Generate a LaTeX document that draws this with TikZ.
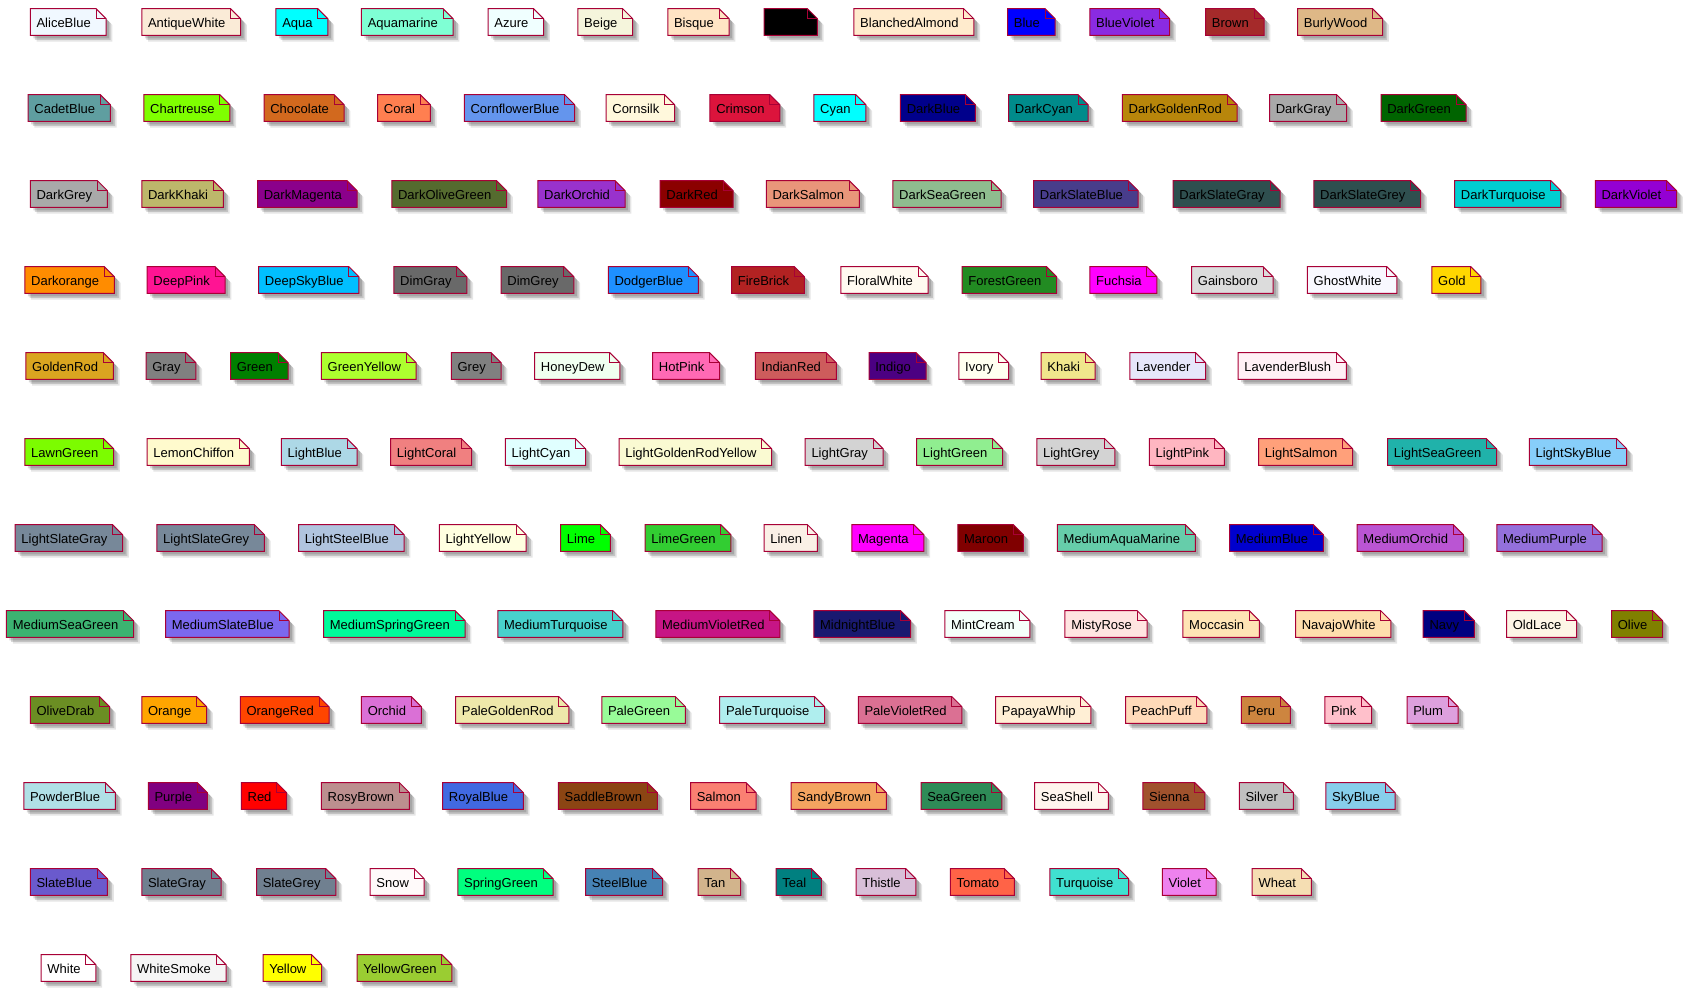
\documentclass[tikz,border=0pt]{standalone}
\usepackage{fontspec}
\setmainfont{Liberation Sans}
\usetikzlibrary{backgrounds,shadows}
\definecolor{noteborder}{HTML}{A80036}
\tikzset{
 notetext/.style={anchor=west, inner sep=0pt, minimum height=19.5pt, text height=8.5pt, text depth=0.5pt, font=\fontsize{9.75}{11}\selectfont, text=black},
 noteshape/.style={draw=noteborder, line width=0.75pt, line join=miter},
 softshadow/.style={drop shadow={shadow xshift=2.25pt, shadow yshift=-2.25pt, fill=black, opacity=0.15},
                    drop shadow={shadow xshift=3.5pt, shadow yshift=-3.5pt, fill=black, opacity=0.15},
                    drop shadow={shadow xshift=4.7pt, shadow yshift=-4.7pt, fill=black, opacity=0.1}}
}
\newcommand\colnote[4]{%
 \definecolor{nc#1}{HTML}{#2}%
 \node[notetext] (#1) at ({#3*1.0823+6},{22+86*#4}) {#1};
 \begin{pgfonlayer}{background}
  \draw[noteshape, fill=nc#1, softshadow] ([xshift=-4.5pt]#1.south west) -- ([xshift=-4.5pt]#1.north west) -- ([xshift=3.75pt]#1.north east) -- ([xshift=11.25pt,yshift=-7.5pt]#1.north east) -- ([xshift=11.25pt]#1.south east) -- cycle;
  \draw[noteshape] ([xshift=3.75pt]#1.north east) -- ([xshift=3.75pt,yshift=-7.5pt]#1.north east) -- ([xshift=11.25pt,yshift=-7.5pt]#1.north east);
 \end{pgfonlayer}}
\begin{document}
\begin{tikzpicture}[x=0.75pt,y=-0.75pt]
\useasboundingbox (0,0) rectangle (1697,991);
% row 0
\colnote{AliceBlue}{F0F8FF}{28}{0}
\colnote{AntiqueWhite}{FAEBD7}{131}{0}
\colnote{Aqua}{00FFFF}{255}{0}
\colnote{Aquamarine}{7FFFD4}{334}{0}
\colnote{Azure}{F0FFFF}{451}{0}
\colnote{Beige}{F5F5DC}{534}{0}
\colnote{Bisque}{FFE4C4}{617}{0}
\colnote{Black}{000000}{706}{0}
\colnote{BlanchedAlmond}{FFEBCD}{789}{0}
\colnote{Blue}{0000FF}{931}{0}
\colnote{BlueViolet}{8A2BE2}{1007}{0}
\colnote{Brown}{A52A2A}{1114}{0}
\colnote{BurlyWood}{DEB887}{1199}{0}
% row 1
\colnote{CadetBlue}{5F9EA0}{26}{1}
\colnote{Chartreuse}{7FFF00}{133}{1}
\colnote{Chocolate}{D2691E}{244}{1}
\colnote{Coral}{FF7F50}{349}{1}
\colnote{CornflowerBlue}{6495ED}{429}{1}
\colnote{Cornsilk}{FFF8DC}{560}{1}
\colnote{Crimson}{DC143C}{656}{1}
\colnote{Cyan}{00FFFF}{752}{1}
\colnote{DarkBlue}{00008B}{832}{1}
\colnote{DarkCyan}{008B8B}{932}{1}
\colnote{DarkGoldenRod}{B8860B}{1037}{1}
\colnote{DarkGray}{A9A9A9}{1173}{1}
\colnote{DarkGreen}{006400}{1276}{1}
% row 2
\colnote{DarkGrey}{A9A9A9}{28}{2}
\colnote{DarkKhaki}{BDB76B}{131}{2}
\colnote{DarkMagenta}{8B008B}{238}{2}
\colnote{DarkOliveGreen}{556B2F}{362}{2}
\colnote{DarkOrchid}{9932CC}{497}{2}
\colnote{DarkRed}{8B0000}{610}{2}
\colnote{DarkSalmon}{E9967A}{708}{2}
\colnote{DarkSeaGreen}{8FBC8F}{825}{2}
\colnote{DarkSlateBlue}{483D8B}{955}{2}
\colnote{DarkSlateGray}{2F4F4F}{1084}{2}
\colnote{DarkSlateGrey}{2F4F4F}{1214}{2}
\colnote{DarkTurquoise}{00CED1}{1344}{2}
\colnote{DarkViolet}{9400D3}{1474}{2}
% row 3
\colnote{Darkorange}{FF8C00}{23}{3}
\colnote{DeepPink}{FF1493}{136}{3}
\colnote{DeepSkyBlue}{00BFFF}{239}{3}
\colnote{DimGray}{696969}{364}{3}
\colnote{DimGrey}{696969}{463}{3}
\colnote{DodgerBlue}{1E90FF}{562}{3}
\colnote{FireBrick}{B22222}{676}{3}
\colnote{FloralWhite}{FFFAF0}{777}{3}
\colnote{ForestGreen}{228B22}{889}{3}
\colnote{Fuchsia}{FF00FF}{1007}{3}
\colnote{Gainsboro}{DCDCDC}{1101}{3}
\colnote{GhostWhite}{F8F8FF}{1208}{3}
\colnote{Gold}{FFD700}{1323}{3}
% row 4
\colnote{GoldenRod}{DAA520}{24}{4}
\colnote{Gray}{808080}{135}{4}
\colnote{Green}{008000}{213}{4}
\colnote{GreenYellow}{ADFF2F}{297}{4}
\colnote{Grey}{808080}{417}{4}
\colnote{HoneyDew}{F0FFF0}{494}{4}
\colnote{HotPink}{FF69B4}{603}{4}
\colnote{IndianRed}{CD5C5C}{698}{4}
\colnote{Indigo}{4B0082}{803}{4}
\colnote{Ivory}{FFFFF0}{886}{4}
\colnote{Khaki}{F0E68C}{962}{4}
\colnote{Lavender}{E6E6FA}{1044}{4}
\colnote{LavenderBlush}{FFF0F5}{1144}{4}
% row 5
\colnote{LawnGreen}{7CFC00}{23}{5}
\colnote{LemonChiffon}{FFFACD}{136}{5}
\colnote{LightBlue}{ADD8E6}{260}{5}
\colnote{LightCoral}{F08080}{361}{5}
\colnote{LightCyan}{E0FFFF}{467}{5}
\colnote{LightGoldenRodYellow}{FAFAD2}{572}{5}
\colnote{LightGray}{D3D3D3}{744}{5}
\colnote{LightGreen}{90EE90}{847}{5}
\colnote{LightGrey}{D3D3D3}{958}{5}
\colnote{LightPink}{FFB6C1}{1062}{5}
\colnote{LightSalmon}{FFA07A}{1163}{5}
\colnote{LightSeaGreen}{20B2AA}{1282}{5}
\colnote{LightSkyBlue}{87CEFA}{1413}{5}
% row 6
\colnote{LightSlateGray}{778899}{14}{6}
\colnote{LightSlateGrey}{778899}{145}{6}
\colnote{LightSteelBlue}{B0C4DE}{276}{6}
\colnote{LightYellow}{FFFFE0}{406}{6}
\colnote{Lime}{00FF00}{518}{6}
\colnote{LimeGreen}{32CD32}{596}{6}
\colnote{Linen}{FAF0E6}{706}{6}
\colnote{Magenta}{FF00FF}{787}{6}
\colnote{Maroon}{800000}{885}{6}
\colnote{MediumAquaMarine}{66CDAA}{977}{6}
\colnote{MediumBlue}{0000CD}{1136}{6}
\colnote{MediumOrchid}{BA55D3}{1254}{6}
\colnote{MediumPurple}{9370DB}{1383}{6}
% row 7
\colnote{MediumSeaGreen}{3CB371}{6}{7}
\colnote{MediumSlateBlue}{7B68EE}{153}{7}
\colnote{MediumSpringGreen}{00FA9A}{299}{7}
\colnote{MediumTurquoise}{48D1CC}{460}{7}
\colnote{MediumVioletRed}{C71585}{606}{7}
\colnote{MidnightBlue}{191970}{752}{7}
\colnote{MintCream}{F5FFFA}{873}{7}
\colnote{MistyRose}{FFE4E1}{984}{7}
\colnote{Moccasin}{FFE4B5}{1093}{7}
\colnote{NavajoWhite}{FFDEAD}{1197}{7}
\colnote{Navy}{000080}{1315}{7}
\colnote{OldLace}{FDF5E6}{1392}{7}
\colnote{Olive}{808000}{1489}{7}
% row 8
\colnote{OliveDrab}{6B8E23}{28}{8}
\colnote{Orange}{FFA500}{131}{8}
\colnote{OrangeRed}{FF4500}{222}{8}
\colnote{Orchid}{DA70D6}{334}{8}
\colnote{PaleGoldenRod}{EEE8AA}{421}{8}
\colnote{PaleGreen}{98FB98}{556}{8}
\colnote{PaleTurquoise}{AFEEEE}{665}{8}
\colnote{PaleVioletRed}{DB7093}{793}{8}
\colnote{PapayaWhip}{FFEFD5}{920}{8}
\colnote{PeachPuff}{FFDAB9}{1040}{8}
\colnote{Peru}{CD853F}{1147}{8}
\colnote{Pink}{FFC0CB}{1224}{8}
\colnote{Plum}{DDA0DD}{1300}{8}
% row 9
\colnote{PowderBlue}{B0E0E6}{22}{9}
\colnote{Purple}{800080}{137}{9}
\colnote{Red}{FF0000}{223}{9}
\colnote{RosyBrown}{BC8F8F}{297}{9}
\colnote{RoyalBlue}{4169E1}{409}{9}
\colnote{SaddleBrown}{8B4513}{516}{9}
\colnote{Salmon}{FA8072}{638}{9}
\colnote{SandyBrown}{F4A460}{731}{9}
\colnote{SeaGreen}{2E8B57}{851}{9}
\colnote{SeaShell}{FFF5EE}{956}{9}
\colnote{Sienna}{A0522D}{1056}{9}
\colnote{Silver}{C0C0C0}{1145}{9}
\colnote{SkyBlue}{87CEEB}{1225}{9}
% row 10
\colnote{SlateBlue}{6A5ACD}{28}{10}
\colnote{SlateGray}{708090}{131}{10}
\colnote{SlateGrey}{708090}{237}{10}
\colnote{Snow}{FFFAFA}{342}{10}
\colnote{SpringGreen}{00FF7F}{423}{10}
\colnote{SteelBlue}{4682B4}{541}{10}
\colnote{Tan}{D2B48C}{645}{10}
\colnote{Teal}{008080}{717}{10}
\colnote{Thistle}{D8BFD8}{791}{10}
\colnote{Tomato}{FF6347}{878}{10}
\colnote{Turquoise}{40E0D0}{970}{10}
\colnote{Violet}{EE82EE}{1074}{10}
\colnote{Wheat}{F5DEB3}{1157}{10}
% row 11
\colnote{White}{FFFFFF}{38}{11}
\colnote{WhiteSmoke}{F5F5F5}{121}{11}
\colnote{Yellow}{FFFF00}{243}{11}
\colnote{YellowGreen}{9ACD32}{330}{11}
\end{tikzpicture}
\end{document}
